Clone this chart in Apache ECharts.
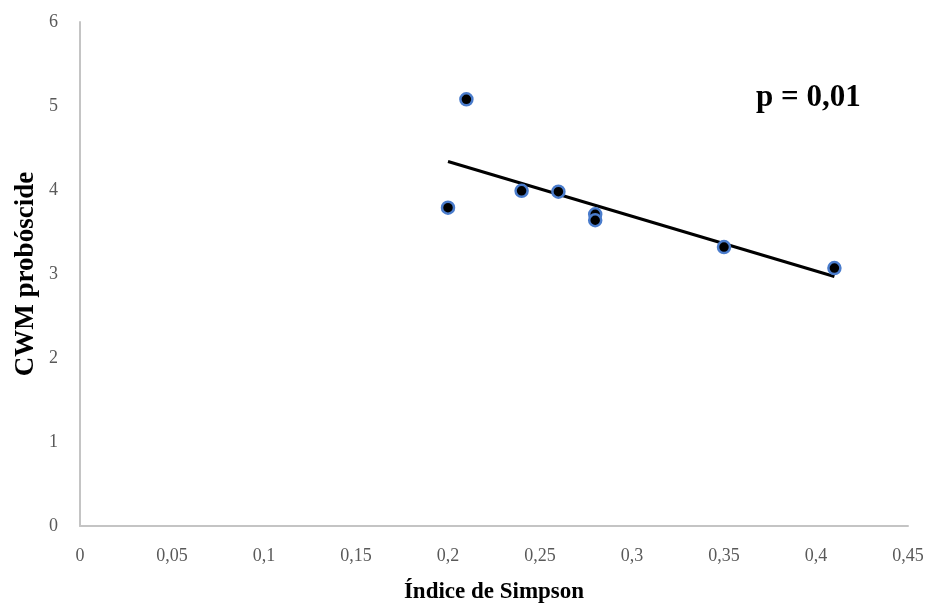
<!DOCTYPE html>
<html>
<head>
<meta charset="utf-8">
<script src="https://cdn.jsdelivr.net/npm/echarts@6/dist/echarts.min.js"></script>
<style>html,body{margin:0;padding:0;background:#fff}#c{width:929px;height:605px}</style>
</head>
<body>
<div id="c"></div>
<script>
const simpsonX = [0.20, 0.21, 0.24, 0.26, 0.28, 0.28, 0.35, 0.41];
const cwmY = [3.79, 5.08, 3.99, 3.98, 3.71, 3.64, 3.32, 3.07];
const trendX = [0.20, 0.41];
const trendY = [4.34, 2.97];
const xTitle = 'Índice de Simpson';
const yTitle = 'CWM probóscide';
const pText = 'p = 0,01';

const chart = echarts.init(document.getElementById('c'));
const fmt = v => String(+v.toFixed(2)).replace('.', ',');
chart.setOption({
  animation: false,
  grid: {left: 80, right: 21, top: 22, bottom: 79, containLabel: false, outerBoundsMode: 'none'},
  xAxis: {
    type: 'value', min: 0, max: 0.45, interval: 0.05,
    splitLine: {show: false},
    axisLine: {show: true, lineStyle: {color: '#c4c4c4', width: 2}},
    axisTick: {show: false},
    axisLabel: {formatter: fmt, color: '#595959', fontFamily: 'Liberation Serif', fontSize: 18, margin: 21},
    name: xTitle, nameLocation: 'middle', nameGap: 55,
    nameTextStyle: {fontFamily: 'Liberation Serif', fontWeight: 'bold', fontSize: 23, color: '#000'}
  },
  yAxis: {
    type: 'value', min: 0, max: 6, interval: 1,
    splitLine: {show: false},
    axisLine: {show: true, lineStyle: {color: '#c4c4c4', width: 2}},
    axisTick: {show: false},
    axisLabel: {color: '#595959', fontFamily: 'Liberation Serif', fontSize: 18, margin: 22},
    name: yTitle, nameLocation: 'middle', nameGap: 40, nameMoveOverlap: false,
    nameTextStyle: {fontFamily: 'Liberation Serif', fontWeight: 'bold', fontSize: 27, color: '#000'}
  },
  graphic: [{
    type: 'text', left: 756, top: 82,
    style: {text: pText, font: 'bold 31px "Liberation Serif"', fill: '#000'}
  }],
  series: [
    {
      type: 'line', data: trendX.map((x, i) => [x, trendY[i]]),
      symbol: 'none', lineStyle: {color: '#000', width: 3}, z: 2
    },
    {
      type: 'scatter', data: simpsonX.map((x, i) => [x, cwmY[i]]),
      symbolSize: 12,
      itemStyle: {color: '#000', borderColor: '#4a7ccc', borderWidth: 2.5, opacity: 1},
      z: 3
    }
  ]
});
</script>
</body>
</html>
